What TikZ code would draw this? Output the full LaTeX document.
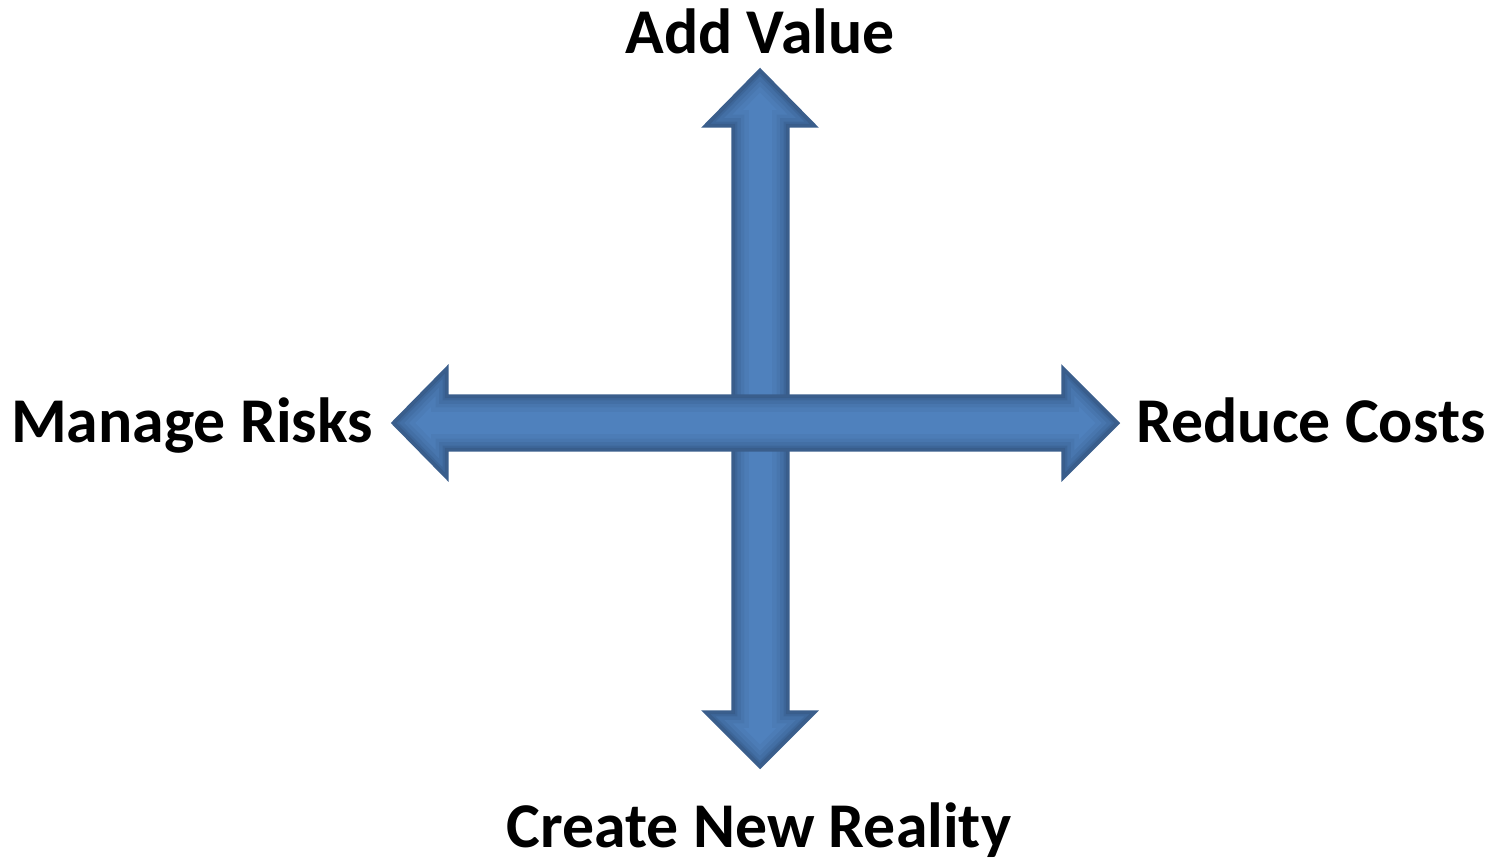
\documentclass[tikz,border=0pt]{standalone}
\usepackage{fontspec}
\setmainfont{Carlito}
\usepackage{tikz}
\usetikzlibrary{calc}
\definecolor{arrowblue}{HTML}{4F81BD}
\definecolor{arrowedge}{HTML}{3A5E8C}
\definecolor{arrowdark}{HTML}{1F3656}
\tikzset{
  arr/.style={fill=arrowblue, draw=none},
  rim/.style={draw=arrowedge, line width=1.8pt, line join=miter},
  lab/.style={font=\fontsize{36.3}{43}\selectfont\bfseries, text=black, inner sep=0pt, anchor=base},
}
% arrow outlines, in pixels of the picture
\def\vpath{(760,70) -- (815,126) -- (788,126) -- (788,712) -- (815,712) -- (760,767)
  -- (705,712) -- (733,712) -- (733,126) -- (705,126) -- cycle}
\def\hpath{(393,423) -- (447,368) -- (447,396) -- (1063,396) -- (1063,368) -- (1118,423)
  -- (1063,478) -- (1063,450) -- (447,450) -- (447,478) -- cycle}
\newcommand{\bevelarrow}[1]{%
  \fill[arr] #1;
  \begin{scope}
    \clip #1;
    \foreach \w/\o in {18/0.06, 13/0.08, 9/0.1, 5/0.14, 2.5/0.2}
      \draw[draw=arrowdark, line width=\w pt, opacity=\o, line join=miter] #1;
  \end{scope}
  \draw[rim] #1;
}

\begin{document}
\begin{tikzpicture}[x=0.02cm, y=-0.02cm]
  \useasboundingbox[fill=white] (0,0) rectangle (1492,859);
  \coordinate (centre) at (760,423);

  \bevelarrow{\vpath}
  \bevelarrow{\hpath}

  \node[lab] (value) at (760,53) {Add Value};
  \node[lab] (risks) at (192,442) {Manage Risks};
  \node[lab] (costs) at (1311,442) {Reduce Costs};
  \node[lab] (reality) at (759,847) {Create New Reality};
\end{tikzpicture}
\end{document}
